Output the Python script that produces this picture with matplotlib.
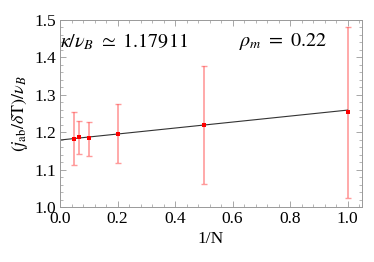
import numpy as np
import matplotlib
matplotlib.use("Agg")
import matplotlib.pyplot as plt
from matplotlib.ticker import MultipleLocator

# data
inv_n = [0.05, 1 / 15, 0.1, 0.2, 0.5, 1.0]
vals = [1.182, 1.1875, 1.184, 1.196, 1.219, 1.253]
err_hi = [1.254, 1.231, 1.228, 1.276, 1.378, 1.482]
err_lo = [1.111, 1.143, 1.1375, 1.117, 1.061, 1.024]
fit_intercept = 1.17911
fit_slope = 0.080

plt.rcParams["font.family"] = ["Liberation Serif", "DejaVu Serif"]
plt.rcParams["mathtext.fontset"] = "stix"


def main():
    fig = plt.figure(figsize=(3.74, 2.62), dpi=100)
    ax = fig.add_axes([60 / 374, 1 - 207 / 262, 302 / 374, 187 / 262])

    v = np.array(vals)
    yerr = [v - np.array(err_lo), np.array(err_hi) - v]
    ax.errorbar(inv_n, vals, yerr=yerr, fmt="none", ecolor=(1, 0.35, 0.35, 0.6),
                elinewidth=1.2, capsize=2.5, capthick=1.0)
    ax.plot(inv_n, vals, "s", color="#ff0000", ms=3.2, mew=0, zorder=3)

    xs = np.array([0.0, 1.0])
    ax.plot(xs, fit_intercept + fit_slope * xs, color="#333333", lw=0.8, zorder=2)

    ax.set_xlim(0, 1.05)
    ax.set_ylim(1.0, 1.5)
    ax.xaxis.set_major_locator(MultipleLocator(0.2))
    ax.xaxis.set_minor_locator(MultipleLocator(0.04))
    ax.yaxis.set_major_locator(MultipleLocator(0.1))
    ax.yaxis.set_minor_locator(MultipleLocator(0.02))
    ax.xaxis.set_major_formatter(lambda x, p: f"{x:.1f}")
    ax.yaxis.set_major_formatter(lambda x, p: f"{x:.1f}")
    ax.tick_params(which="both", direction="in", top=True, right=True,
                   color="#999999", labelsize=12.5)
    ax.tick_params(axis="x", pad=3)
    ax.tick_params(axis="y", pad=3)
    ax.tick_params(which="major", length=4, width=0.6)
    ax.tick_params(which="minor", length=2, width=0.5)
    for s in ax.spines.values():
        s.set_color("#999999")
        s.set_linewidth(0.7)

    ax.set_xlabel("1/N", fontsize=12.5, labelpad=3)
    ax.set_ylabel(r"$(j_{\mathrm{ab}}/\delta\mathrm{T})/\nu_B$", fontsize=13, labelpad=3)

    ax.text(0.0, 0.885, r"$\kappa/\nu_B\ \simeq\ 1.17911$", transform=ax.transAxes,
            fontsize=14.5, ha="left", va="center")
    ax.text(0.885, 0.885, r"$\rho_m\ =\ 0.22$", transform=ax.transAxes,
            fontsize=14.5, ha="right", va="center")

    fig.savefig("out.png", dpi=100)


if __name__ == "__main__":
    main()
